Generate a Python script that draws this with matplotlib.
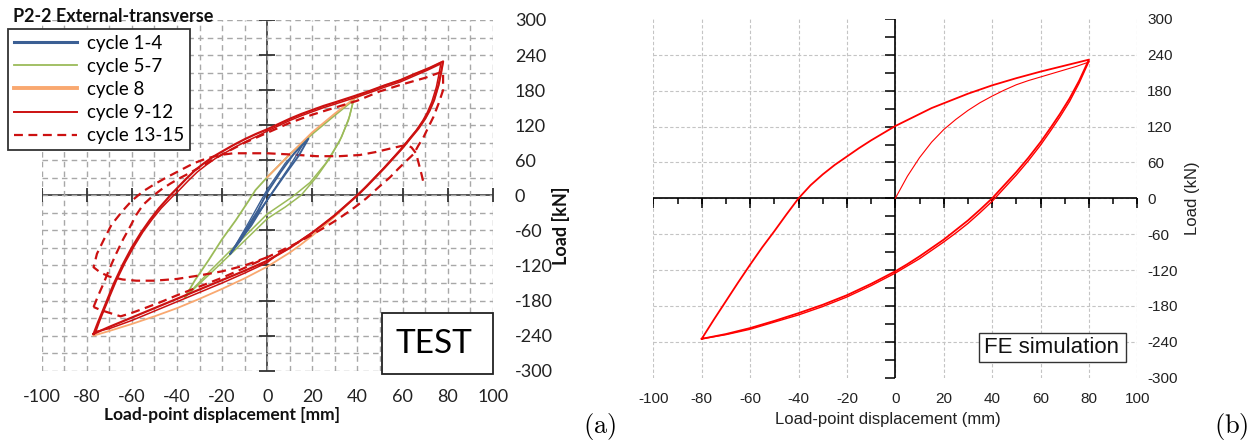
import matplotlib
matplotlib.use('Agg')
import matplotlib.pyplot as plt
from matplotlib.patches import Rectangle

plt.rcParams['mathtext.fontset'] = 'cm'
plt.rcParams['axes.unicode_minus'] = False

# ---------------- data: (a) test ----------------
# cycles 1-4
blue1_x = [-16.4, -10, -4, 0, 6, 12, 18.3, 14, 8, 2, 0, -6, -12, -16.4]
blue1_y = [-100, -62, -25, 5, 40, 72, 97, 68, 36, 3, -8, -42, -78, -100]
blue2_x = [-15, -8, 0, 8, 16, 10, 0, -7, -15]
blue2_y = [-92, -45, 10, 55, 88, 50, -8, -52, -92]

# cycles 5-7
green_up_x = [-36.4, -32, -26, -20, -14, -8, -5.2, 0, 10, 20, 30, 38.3]
green_up_y = [-174, -145, -111, -75, -43, -8, 9, 31, 70, 105, 137, 163]
green_dn1_x = [38.3, 36.5, 33, 28, 22, 15, 8, 0, -12, -25, -36.4]
green_dn1_y = [163, 135, 100, 65, 32, 0, -20, -40, -85, -133, -174]
green_dn2_x = [38.3, 36, 32, 26, 19, 11, 0, -12, -25, -36.4]
green_dn2_y = [163, 128, 92, 55, 22, -3, -32, -78, -128, -174]

# cycle 8
orange_up_x = [0, 10, 20, 30, 38.3, 45, 52, 59, 65, 72, 78]
orange_up_y = [31, 70, 108, 140, 165, 177, 188, 197, 207, 218, 229]
orange_dn_x = [78, 77, 76, 74, 72, 70, 67, 64, 60, 56, 52, 48, 44, 40, 35, 30, 25, 20, 15, 10, 5, 0,
               -10, -20, -30, -40, -50, -60, -70, -77]
orange_dn_y = [229, 208, 189, 163, 145, 131, 114, 100, 81, 64, 47, 31, 15, 0, -18, -36, -53, -69,
               -84, -98, -110, -122, -142, -160, -177, -193, -207, -220, -232, -240]

# cycles 9-12
red_up_x = [-77, -75, -72, -68, -64, -60, -56, -52, -48, -45, -43, -40, -36, -32, -28, -24, -20,
            -15, -10, -5, 0, 5, 10, 15, 20, 25, 30, 38, 45, 52, 59, 65, 72, 78]
red_up_y = [-237, -217, -189, -151, -118, -89, -64, -42, -22, -9, 0, 12, 28, 43, 55, 66, 75,
            86, 96, 105, 113, 122, 131, 139, 146, 153, 159, 169, 178, 188, 197, 207, 218, 229]
red_dn_x = [78, 77, 76, 74, 72, 70, 67, 64, 60, 56, 52, 48, 44, 40, 35, 30, 25, 20, 15, 10, 5, 0,
            -10, -20, -30, -40, -50, -60, -70, -77]
red_dn_y = [229, 208, 189, 163, 145, 131, 114, 100, 81, 64, 47, 31, 15, 0, -17, -34, -49, -64,
            -77, -90, -101, -112, -129, -145, -161, -177, -193, -209, -225, -237]
red2_up_x = [-76, -74, -71, -67, -63, -59, -55, -51, -47, -44, -42, -39, -35, -31, -27, -23, -19,
             -14, -9, -4, 0, 5, 10, 15, 20, 25, 30, 38, 45, 52, 59, 65, 71, 77]
red2_up_y = [-233, -212, -184, -147, -115, -87, -62, -41, -22, -10, -2, 9, 25, 40, 52, 63, 72,
             83, 93, 102, 110, 119, 128, 136, 143, 150, 156, 166, 175, 185, 194, 204, 214, 225]
red2_dn_x = [77, 76, 75, 73, 71, 69, 66, 63, 59, 55, 51, 47, 43, 39, 34, 29, 24, 19, 14, 9, 4, 0,
             -10, -20, -30, -40, -50, -60, -70, -76]
red2_dn_y = [225, 204, 185, 160, 142, 128, 111, 97, 78, 61, 44, 28, 12, -3, -20, -37, -52, -66,
             -79, -92, -103, -115, -133, -150, -166, -182, -198, -214, -228, -233]

# cycles 13-15
dash1_x = [-77, -75, -72.6, -70, -67, -64, -61, -58, -55, -51, -47, -43, -39, -35, -28, -20, -10,
           0, 10, 20, 30, 40, 50, 60, 70, 75, 78, 78, 78, 76, 73.7, 71.5, 69.4, 67, 65, 62, 58,
           54.5, 50, 44, 39, 35, 30, 25, 20, 14, 7, 0, -10, -20, -32.7, -40, -47.5, -55, -60, -65,
           -70, -74, -77]
dash1_y = [-191, -172, -151, -126, -100, -76, -55, -33, -16, -2, 10, 20, 29, 37, 52, 70, 90,
           107, 124, 138, 150, 162, 178, 190, 201, 208, 212, 196, 180, 157, 134, 117, 100, 85, 71,
           60, 45, 31, 16, -5, -20, -31, -44, -56, -67, -80, -93, -106, -124, -141, -160, -171,
           -183, -194, -201, -207, -201, -196, -191]
dash2_x = [0, -5, -10, -20, -30, -40, -50, -58, -64, -70, -74, -77, -75.5, -72.6, -69, -64, -60,
           -55, -50, -44.5, -38, -32.5, -27, -21, -15, -7.5, 0, 10, 22, 32, 41, 48, 54.5, 59, 62,
           64, 66, 67.5, 68.5, 69.4]
dash2_y = [-106, -113, -120, -130, -137, -143, -146, -146, -144, -139, -132, -123, -100, -77, -50,
           -26, -9, 7, 19, 31, 44, 55, 63, 69, 72, 72, 72, 70, 67, 67, 69, 74, 80, 84, 86, 82, 72,
           50, 35, 20]

# ---------------- data: (b) FE ----------------
fe_init_x = [0, 5, 10, 15, 20, 25, 30, 35, 40, 45, 50, 55, 60, 65, 70, 75, 80]
fe_init_y = [0, 37, 68, 94, 115, 132, 147, 160, 171, 181, 190, 197, 203, 209, 215, 221, 228]
fe_up_x = [-80, -75, -70, -65, -60, -55, -50, -45, -40, -35, -30, -25, -20, -15, -10, -5, 0, 5,
           10, 15, 20, 30, 40, 50, 60, 70, 80]
fe_up_y = [-235, -203, -172, -141, -111, -82, -55, -27, 0, 22, 40, 56, 70, 84, 97, 109, 121, 131,
           141, 151, 159, 175, 189, 201, 212, 222, 232]
fe_dn_x = [80, 76, 72, 68, 64, 60, 55, 50, 45, 40, 35, 30, 25, 20, 15, 10, 5, 0, -10, -20, -30,
           -40, -50, -60, -70, -80]
fe_dn_y = [232, 197, 167, 141, 117, 94, 68, 44, 22, 0, -19, -37, -53, -69, -83, -97, -110, -122,
           -143, -162, -178, -192, -205, -217, -227, -235]
fe_dn2_y = [229, 193, 162, 136, 112, 89, 63, 39, 17, -5, -24, -42, -58, -73, -87, -101, -113,
            -125, -146, -165, -181, -195, -207, -219, -228, -235]

x_ticks = [-100, -80, -60, -40, -20, 0, 20, 40, 60, 80, 100]
y_ticks = [-300, -240, -180, -120, -60, 0, 60, 120, 180, 240, 300]
x_minor = [-100, -90, -80, -70, -60, -50, -40, -30, -20, -10, 0, 10, 20, 30, 40, 50, 60, 70, 80, 90, 100]
y_minor = [-300, -270, -240, -210, -180, -150, -120, -90, -60, -30, 0, 30, 60, 90, 120, 150, 180,
           210, 240, 270, 300]

W, H = 1258, 444
fig = plt.figure(figsize=(W / 100, H / 100), dpi=100)

# ================= panel (a) =================
fa = 'Lato'
ax = fig.add_axes([41.7 / W, 1 - 370.7 / H, 451 / W, 350.7 / H])
ax.set_xlim(-100, 100)
ax.set_ylim(-300, 300)
for s in ax.spines.values():
    s.set_visible(False)
ax.set_xticks(x_ticks)
ax.set_yticks(y_ticks)
ax.set_xticks(x_minor, minor=True)
ax.set_yticks(y_minor, minor=True)
ax.grid(which='both', ls=(0, (4, 3)), color='#a8a8a8', lw=1.0)
ax.yaxis.tick_right()
ax.tick_params(which='both', length=0)
ax.tick_params(axis='x', pad=13, labelsize=13)
ax.tick_params(axis='y', pad=16, labelsize=13)
for lab in ax.get_xticklabels() + ax.get_yticklabels():
    lab.set_fontfamily(fa)
    lab.set_color('#222222')

ax.axhline(0, color='#333333', lw=1.2, zorder=1.5)
ax.axvline(0, color='#333333', lw=1.2, zorder=1.5)
ax.plot(x_ticks, [0] * len(x_ticks), ls='none', marker='|', ms=10, mew=1.3, color='#333333', zorder=1.6)
ax.plot([0] * len(y_ticks), y_ticks, ls='none', marker='_', ms=12, mew=1.3, color='#333333', zorder=1.6)

c_blue, c_green, c_orange, c_red = '#3b5f94', '#9bbb59', '#f9a870', '#cc1111'
l1, = ax.plot(blue1_x, blue1_y, color=c_blue, lw=1.4, zorder=4, label='cycle 1-4')
ax.plot(blue2_x, blue2_y, color=c_blue, lw=1.0, zorder=4)
l2, = ax.plot(green_up_x, green_up_y, color=c_green, lw=1.3, zorder=3, label='cycle 5-7')
ax.plot(green_dn1_x, green_dn1_y, color=c_green, lw=1.1, zorder=3)
ax.plot(green_dn2_x, green_dn2_y, color=c_green, lw=1.1, zorder=3)
l3, = ax.plot(orange_up_x + orange_dn_x, orange_up_y + orange_dn_y, color=c_orange, lw=1.3,
              zorder=3.2, label='cycle 8')
l4, = ax.plot(red_up_x + red_dn_x, red_up_y + red_dn_y, color=c_red, lw=1.6, zorder=3.5, label='cycle 9-12')
ax.plot(red2_up_x + red2_dn_x, red2_up_y + red2_dn_y, color=c_red, lw=1.1, zorder=3.5)
l5, = ax.plot(dash1_x, dash1_y, color=c_red, lw=1.6, ls=(0, (4, 2.5)), zorder=3.6, label='cycle 13-15')
ax.plot(dash2_x, dash2_y, color=c_red, lw=1.6, ls=(0, (4, 2.5)), zorder=3.6)

leg = ax.legend(handles=[l1, l2, l3, l4, l5], loc='upper left',
                bbox_to_anchor=(8 / W, 1 - 29 / H), bbox_transform=fig.transFigure,
                prop={'family': fa, 'size': 13.5}, handlelength=3.4, handletextpad=0.5,
                labelspacing=0.33, borderpad=0.3, borderaxespad=0, fancybox=False,
                framealpha=1, edgecolor='#333333')
leg.get_frame().set_linewidth(1.3)
leg.set_zorder(10)
leg.legend_handles[2].set_linewidth(2.8)
leg.legend_handles[0].set_linewidth(2.2)
leg.legend_handles[3].set_linewidth(1.4)

fig.text(13 / W, 1 - 17 / H, 'P2-2 External-transverse', family=fa, weight='bold', fontsize=13,
         ha='left', va='center', color='#111111')
fig.text(222 / W, 1 - 415 / H, 'Load-point displacement [mm]', family=fa, weight='bold',
         fontsize=12.5, ha='center', va='center', color='#111111')
fig.text(561 / W, 1 - 226 / H, 'Load [kN]', family=fa, weight='bold', fontsize=13, rotation=90,
         ha='center', va='center', color='#111111')

fig.add_artist(Rectangle((382 / W, 1 - 374 / H), 111 / W, 61 / H, transform=fig.transFigure,
                         facecolor='white', edgecolor='#222222', lw=1.3, zorder=5))
fig.text(434 / W, 1 - 344 / H, 'TEST', family=fa, fontsize=24, ha='center', va='center', zorder=6)
fig.text(600 / W, 1 - 426 / H, r'$\mathrm{(a)}$', fontsize=19, ha='center', va='center')

# ================= panel (b) =================
fb = 'Liberation Sans'
bx = fig.add_axes([653.3 / W, 1 - 377.7 / H, 484 / W, 358.7 / H])
bx.set_xlim(-100, 100)
bx.set_ylim(-300, 300)
for s in bx.spines.values():
    s.set_visible(False)
bx.set_xticks(x_ticks)
bx.set_yticks(y_ticks)
bx.grid(True, ls=(0, (3, 2)), color='#c4c4c4', lw=0.8)
for gl, v in zip(bx.get_ygridlines(), y_ticks):
    if abs(v) == 300:
        gl.set_visible(False)
bx.yaxis.tick_right()
bx.tick_params(which='both', length=0)
bx.tick_params(axis='x', pad=10, labelsize=11)
bx.tick_params(axis='y', pad=7, labelsize=11)
for lab in bx.get_xticklabels() + bx.get_yticklabels():
    lab.set_fontfamily(fb)
    lab.set_color('#222222')

bx.plot([-100, 100], [0, 0], color='black', lw=1.2, zorder=2)
bx.plot([0, 0], [-300, 300], color='black', lw=1.2, zorder=2)
bx.plot(x_ticks, [0] * len(x_ticks), ls='none', marker=3, ms=7, mew=1.1, color='black', zorder=2)
bx.plot(x_minor, [0] * len(x_minor), ls='none', marker=3, ms=4, mew=1.1, color='black', zorder=2)
bx.plot([0] * len(y_minor), y_minor, ls='none', marker=0, ms=7, mew=1.1, color='black', zorder=2)

bx.plot(fe_init_x, fe_init_y, color='#ff0000', lw=0.8, zorder=3)
bx.plot(fe_up_x + fe_dn_x, fe_up_y + fe_dn_y, color='#ff0000', lw=1.3, zorder=3)
bx.plot(fe_dn_x, fe_dn2_y, color='#ff0000', lw=1.0, zorder=3)

fig.text(888 / W, 1 - 419 / H, 'Load-point displacement (mm)', family=fb, fontsize=12,
         ha='center', va='center', color='#222222')
fig.text(1192 / W, 1 - 198 / H, 'Load (kN)', family=fb, fontsize=12, rotation=90,
         ha='center', va='center', color='#222222')
fig.add_artist(Rectangle((978.5 / W, 1 - 361.7 / H), 147 / W, 28.4 / H, transform=fig.transFigure,
                         facecolor='white', edgecolor='#333333', lw=1.0, zorder=5))
fig.text(1052 / W, 1 - 347.5 / H, 'FE simulation', family=fb, fontsize=16, ha='center',
         va='center', zorder=6, color='#111111')
fig.text(1231 / W, 1 - 426 / H, r'$\mathrm{(b)}$', fontsize=19, ha='center', va='center')

fig.savefig('out.png', dpi=100)
